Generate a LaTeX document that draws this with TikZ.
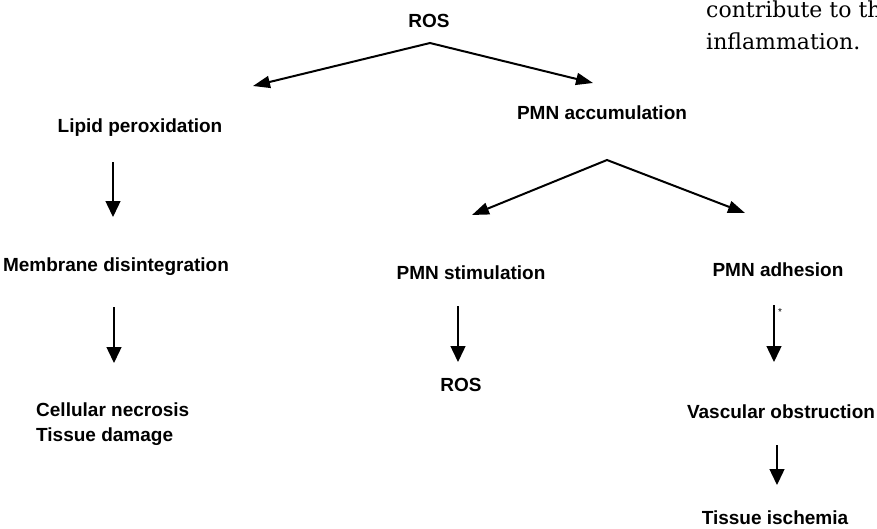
\documentclass[tikz,border=0pt]{standalone}
\usepackage{fontspec}
\setmainfont{Liberation Sans}
\newfontfamily\quoteserif{DejaVu Serif}
\usetikzlibrary{arrows.meta}

\tikzset{
  lbl/.style={font=\fontsize{19}{25}\selectfont\bfseries, inner sep=0pt},
  down/.style={line width=1.4pt, -{Triangle[width=15pt,length=16pt]}},
  fork/.style={line width=2pt, {Triangle[width=12pt,length=17pt]}-{Triangle[width=12pt,length=17pt]}}
}

\begin{document}
\begin{tikzpicture}[x=1pt,y=-1pt]
\useasboundingbox (0,0) rectangle (877,528);

% text of the page beside the figure
\node[anchor=north west, align=left, inner sep=0pt, font=\quoteserif\fontsize{22}{32}\selectfont] (quote) at (706,1) {contribute to th\\inflammation.};

\foreach \x/\y/\name/\txt in {429/21/ros/ROS, 140/128/lipid/Lipid peroxidation, 602/113/accum/PMN accumulation,
  116/267/membrane/Membrane disintegration, 471/273/stim/PMN stimulation, 778/270/adhes/PMN adhesion,
  461/385/rostwo/ROS, 781/412/vasc/Vascular obstruction, 775/518/isch/Tissue ischemia}{
 \node[lbl] (\name) at (\x,\y) {\txt};
 }
\node[lbl, anchor=west, align=left] (necro) at (36,424) {Cellular necrosis\\Tissue damage};

% forks
\coordinate (rosfork) at (430,43);
\coordinate (tolipid) at (253,86);
\coordinate (toaccum) at (593,83);
\draw[fork] (tolipid) -- (rosfork) -- (toaccum);

\coordinate (accumfork) at (607,160);
\coordinate (tostim) at (472,215);
\coordinate (toadhes) at (745,213);
\draw[fork] (tostim) -- (accumfork) -- (toadhes);

% straight arrows
\foreach \name/\x/\ya/\yb in {lipid/113/162/217, membrane/114/307/363, stim/458/306/362, adhes/774/305/362, vasc/777/445/485}{
 \coordinate (\name a) at (\x,\ya);
 \coordinate (\name b) at (\x,\yb);
 \draw[down] (\name a) -- (\name b);
 }
\node[inner sep=0pt, font=\fontsize{10}{10}\selectfont] (star) at (780,312) {*};

\end{tikzpicture}
\end{document}
